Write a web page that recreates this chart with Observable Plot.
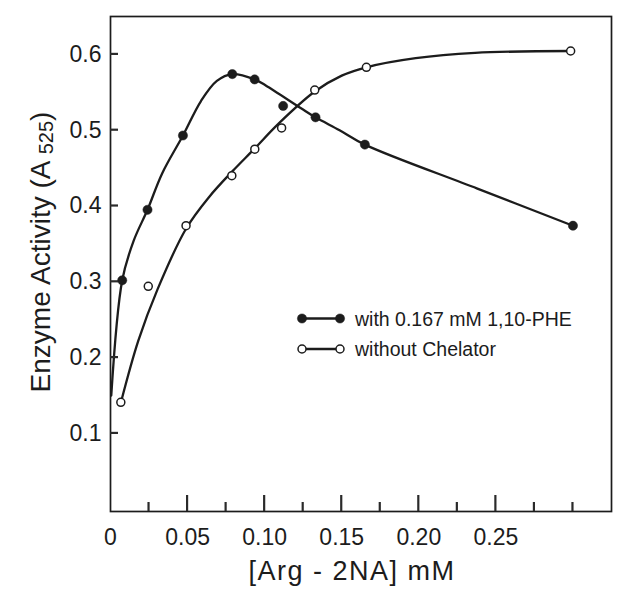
<!DOCTYPE html>
<html>
<head>
<meta charset="utf-8">
<script src="https://cdn.jsdelivr.net/npm/d3@7"></script>
<script src="https://cdn.jsdelivr.net/npm/@observablehq/plot@0.6"></script>
<style>
  html, body { margin: 0; padding: 0; background: #ffffff; }
  #chart { width: 624px; height: 590px; }
</style>
</head>
<body>
<div id="chart"></div>
<script>
// ---------- data ----------
const seriesNames = ["with 0.167 mM 1,10-PHE", "without Chelator"];

// measured points, with 0.167 mM 1,10-PHE (filled circles)
const pheX = [0.0076, 0.024, 0.047, 0.079, 0.0935, 0.112, 0.133, 0.165, 0.300];
const pheY = [0.302, 0.395, 0.493, 0.574, 0.567, 0.532, 0.517, 0.481, 0.374];

// measured points, without chelator (open circles)
const noChelX = [0.0067, 0.0245, 0.049, 0.0787, 0.0936, 0.111, 0.1325, 0.166, 0.2985];
const noChelY = [0.141, 0.294, 0.374, 0.440, 0.475, 0.503, 0.553, 0.583, 0.6045];

// hand-drawn fitted curves
const pheFitX = [0.0005, 0.0076, 0.015, 0.024, 0.0335, 0.047, 0.0587, 0.069, 0.079, 0.0935, 0.1007, 0.1236, 0.133, 0.1486, 0.165, 0.238, 0.300];
const pheFitY = [0.150, 0.302, 0.354, 0.395, 0.443, 0.493, 0.5385, 0.565, 0.574, 0.567, 0.559, 0.529, 0.517, 0.500, 0.481, 0.423, 0.374];

const noChelFitX = [0.0067, 0.018, 0.0305, 0.049, 0.064, 0.0787, 0.0936, 0.1087, 0.1325, 0.150, 0.166, 0.198, 0.2365, 0.2985];
const noChelFitY = [0.1404, 0.222, 0.290, 0.370, 0.412, 0.445, 0.476, 0.508, 0.551, 0.572, 0.583, 0.595, 0.602, 0.6045];

// axes
const xTicks = [0, 0.05, 0.10, 0.15, 0.20, 0.25];
const xTickLabels = ["0", "0.05", "0.10", "0.15", "0.20", "0.25"];
const xMajorMarks = [0.05, 0.10, 0.15, 0.20, 0.25];
const xMinorTicks = [0.025, 0.075, 0.125, 0.175, 0.225, 0.275, 0.30];
const yTicks = [0.1, 0.2, 0.3, 0.4, 0.5, 0.6];
const yTickLabels = ["0.1", "0.2", "0.3", "0.4", "0.5", "0.6"];
const xDomain = [0, 0.325];
const yDomain = [-0.003, 0.65];
const xLabel = "[Arg - 2NA] mM";
const yLabelMain = "Enzyme Activity (A ";
const yLabelSub = "525";
const yLabelEnd = ")";

// ---------- build ----------
const zip = (xs, ys) => xs.map((x, i) => ({x, y: ys[i]}));
const phe = zip(pheX, pheY);
const noChel = zip(noChelX, noChelY);
const pheFit = zip(pheFitX, pheFitY);
const noChelFit = zip(noChelFitX, noChelFitY);

const ink = "#1c1c1c";
const tickInk = "#2a2a2a";
const W = 624, H = 590, mL = 110, mR = 13, mT = 16, mB = 79;
const font = "'Liberation Sans', Arial, Helvetica, sans-serif";
const majorLen = 16, minorLen = 9, yTickLen = 8;

const plot = Plot.plot({
  width: W,
  height: H,
  marginLeft: mL,
  marginRight: mR,
  marginTop: mT,
  marginBottom: mB,
  style: {fontFamily: font, color: ink, background: "#ffffff"},
  x: {domain: xDomain},
  y: {domain: yDomain},
  marks: [
    Plot.frame({stroke: ink, strokeWidth: 1.7}),
    Plot.axisX(xTicks, {tickSize: 0, tickPadding: 17, fontSize: 23, label: null,
      tickFormat: d => xTickLabels[xTicks.indexOf(d)]}),
    Plot.axisY(yTicks, {tickSize: 0, tickPadding: 9, fontSize: 23, label: null,
      tickFormat: d => yTickLabels[yTicks.indexOf(d)]}),
    Plot.line(pheFit, {x: "x", y: "y", curve: "catmull-rom", stroke: ink, strokeWidth: 2.3}),
    Plot.line(noChelFit, {x: "x", y: "y", curve: "catmull-rom", stroke: ink, strokeWidth: 2.3}),
    Plot.dot(phe, {x: "x", y: "y", r: 4.6, fill: ink, stroke: ink, strokeWidth: 0.5}),
    Plot.dot(noChel, {x: "x", y: "y", r: 4, fill: "#ffffff", stroke: ink, strokeWidth: 1.5})
  ]
});

const svg = d3.select(plot);
const sx = plot.scale("x"), sy = plot.scale("y");
const bottom = H - mB, left = mL;

// inward tick marks, positioned with the plot's own scales
const tickLines = [];
xMajorMarks.forEach(v => tickLines.push({x1: sx.apply(v), x2: sx.apply(v), y1: bottom, y2: bottom - majorLen}));
xMinorTicks.forEach(v => tickLines.push({x1: sx.apply(v), x2: sx.apply(v), y1: bottom, y2: bottom - minorLen}));
yTicks.forEach(v => tickLines.push({x1: left, x2: left + yTickLen, y1: sy.apply(v), y2: sy.apply(v)}));
tickLines.forEach(t => {
  svg.append("line")
    .attr("x1", t.x1).attr("x2", t.x2).attr("y1", t.y1).attr("y2", t.y2)
    .attr("stroke", tickInk).attr("stroke-width", 2.2);
});

// y label with subscript
const yl = svg.append("text")
  .attr("transform", "translate(50,252) rotate(-90)")
  .attr("text-anchor", "middle")
  .attr("fill", ink)
  .style("font-family", font)
  .style("font-size", "28px");
yl.append("tspan").text(yLabelMain);
yl.append("tspan").text(yLabelSub).style("font-size", "20px").attr("dy", 3);
yl.append("tspan").text(yLabelEnd).attr("dy", -3);

// x label
svg.append("text")
  .attr("x", 352)
  .attr("y", 580)
  .attr("text-anchor", "middle")
  .attr("fill", ink)
  .style("font-family", font)
  .style("font-size", "27px")
  .style("letter-spacing", "1.5px")
  .text(xLabel);

// legend
const legendRows = [
  {name: seriesNames[0], filled: true},
  {name: seriesNames[1], filled: false}
];
const lg = svg.append("g").attr("transform", "translate(302,318.5)");
legendRows.forEach((row, i) => {
  const g = lg.append("g").attr("transform", `translate(0,${i * 30.5})`);
  g.append("line").attr("x1", 0).attr("x2", 38).attr("y1", 0).attr("y2", 0)
    .attr("stroke", ink).attr("stroke-width", 2.3);
  [0, 38].forEach(cx => {
    g.append("circle").attr("cx", cx).attr("cy", 0).attr("r", row.filled ? 4.6 : 4)
      .attr("fill", row.filled ? ink : "#ffffff").attr("stroke", ink)
      .attr("stroke-width", row.filled ? 0.5 : 1.5);
  });
  g.append("text").attr("x", 53).attr("y", 0).attr("dy", "0.36em")
    .attr("text-anchor", "start")
    .attr("fill", ink)
    .style("font-family", font).style("font-size", "19.5px")
    .text(row.name);
});

document.getElementById("chart").appendChild(plot);
</script>
</body>
</html>
